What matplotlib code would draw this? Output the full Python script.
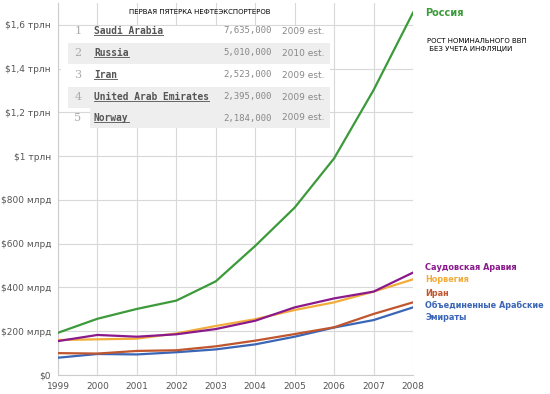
import matplotlib.pyplot as plt
from matplotlib.patches import Rectangle
from matplotlib.lines import Line2D

# данные: номинальный ВВП, млрд $
years = [1999, 2000, 2001, 2002, 2003, 2004, 2005, 2006, 2007, 2008]
russia = [193, 257, 302, 340, 428, 590, 765, 990, 1302, 1656]
saudi = [155, 183, 175, 186, 210, 248, 309, 350, 381, 468]
norway = [160, 163, 166, 190, 224, 255, 297, 332, 381, 437]
iran = [100, 98, 110, 113, 131, 157, 187, 218, 279, 332]
uae = [79, 96, 94, 104, 117, 140, 175, 217, 251, 309]

y_ticks = [0, 200, 400, 600, 800, 1000, 1200, 1400, 1600]
y_labels = ['$0', '$200 млрд', '$400 млрд', '$600 млрд', '$800 млрд',
            '$1 трлн', '$1,2 трлн', '$1,4 трлн', '$1,6 трлн']

# таблица экспортеров нефти
ranks = ['1', '2', '3', '4', '5']
exporters = ['Saudi Arabia', 'Russia', 'Iran', 'United Arab Emirates', 'Norway']
barrels = ['7,635,000', '5,010,000', '2,523,000', '2,395,000', '2,184,000']
est_years = ['2009 est.', '2010 est.', '2009 est.', '2009 est.', '2009 est.']

W, H = 550, 394
fig = plt.figure(figsize=(5.5, 3.94), dpi=100)
ax = fig.add_axes([58 / W, 1 - 375 / H, (413 - 58) / W, (375 - 3) / H])


def fx(px):
    return px / W


def fy(py):
    return 1 - py / H


series = [
    (russia, '#3c9a3a'),
    (saudi, '#8a1a8c'),
    (norway, '#f2ac3a'),
    (iran, '#c0562e'),
    (uae, '#3b66b6'),
]
for vals, col in series[::-1]:
    ax.plot(years, vals, color=col, lw=1.6, zorder=3)

ax.set_xlim(1999, 2008)
ax.set_ylim(0, 1700)
ax.set_xticks(years)
ax.set_xticklabels([str(y) for y in years])
ax.set_yticks(y_ticks)
ax.set_yticklabels(y_labels)
ax.tick_params(length=0, labelsize=6.5, colors='#555555', pad=5)
ax.grid(True, color='#d8d8d8', lw=0.8)
for s in ['top', 'right']:
    ax.spines[s].set_visible(False)
for s in ['left', 'bottom']:
    ax.spines[s].set_color('#cccccc')

# подписи справа
fig.text(fx(425), fy(13), 'Россия', color='#3c9a3a', fontsize=7, fontweight='bold', va='center')
fig.text(fx(427), fy(45), 'РОСТ НОМИНАЛЬНОГО ВВП\n БЕЗ УЧЕТА ИНФЛЯЦИИ', fontsize=5,
         va='center', linespacing=1.3)
labels = [('Саудовская Аравия', '#8a1a8c', 268), ('Норвегия', '#f2ac3a', 280),
          ('Иран', '#c0562e', 293), ('Объединенные Арабские', '#3b66b6', 305),
          ('Эмираты', '#3b66b6', 317)]
for txt, col, py in labels:
    fig.text(fx(425), fy(py), txt, color=col, fontsize=5.9, fontweight='bold', va='center')

# вставка с таблицей
fig.text(fx(200), fy(12), 'ПЕРВАЯ ПЯТЕРКА НЕФТЕЭКСПОРТЕРОВ', fontsize=5, ha='center',
         va='center')
fig.patches.append(Rectangle((fx(61), fy(108)), fx(330 - 61), 82 / H, transform=fig.transFigure,
                             facecolor='white', edgecolor='none', zorder=1))
for x0, top, bot in [(68, 43, 64), (68, 87, 108), (90, 108, 128)]:
    fig.patches.append(Rectangle((fx(x0), fy(bot)), fx(330 - x0), (bot - top) / H,
                                 transform=fig.transFigure, facecolor='#eeeeee',
                                 edgecolor='none', zorder=1))

row_y = [31, 53, 75, 97, 118]
name_texts = []
for i in range(5):
    py = row_y[i]
    fig.text(fx(78), fy(py), ranks[i], fontsize=8, color='#aaaaaa', ha='center', va='center',
             family='DejaVu Serif', zorder=2)
    t = fig.text(fx(94), fy(py), exporters[i], fontsize=6.9, color='#555555', fontweight='bold',
                 family='DejaVu Sans Mono', va='center', zorder=2)
    name_texts.append(t)
    fig.text(fx(272), fy(py), barrels[i], fontsize=6.5, color='#888888', family='DejaVu Sans Mono',
             ha='right', va='center', zorder=2)
    fig.text(fx(282), fy(py), est_years[i], fontsize=6.5, color='#888888', va='center', zorder=2)

# подчеркивание названий
fig.canvas.draw()
inv = fig.transFigure.inverted()
for t in name_texts:
    bb = t.get_window_extent()
    (x0, y0), (x1, _) = inv.transform([(bb.x0, bb.y0 + 1), (bb.x1, bb.y1)])
    fig.lines.append(Line2D([x0, x1], [y0, y0], transform=fig.transFigure, color='#666666',
                            lw=0.7, zorder=2))

fig.savefig('out.png', dpi=100, facecolor='white')
